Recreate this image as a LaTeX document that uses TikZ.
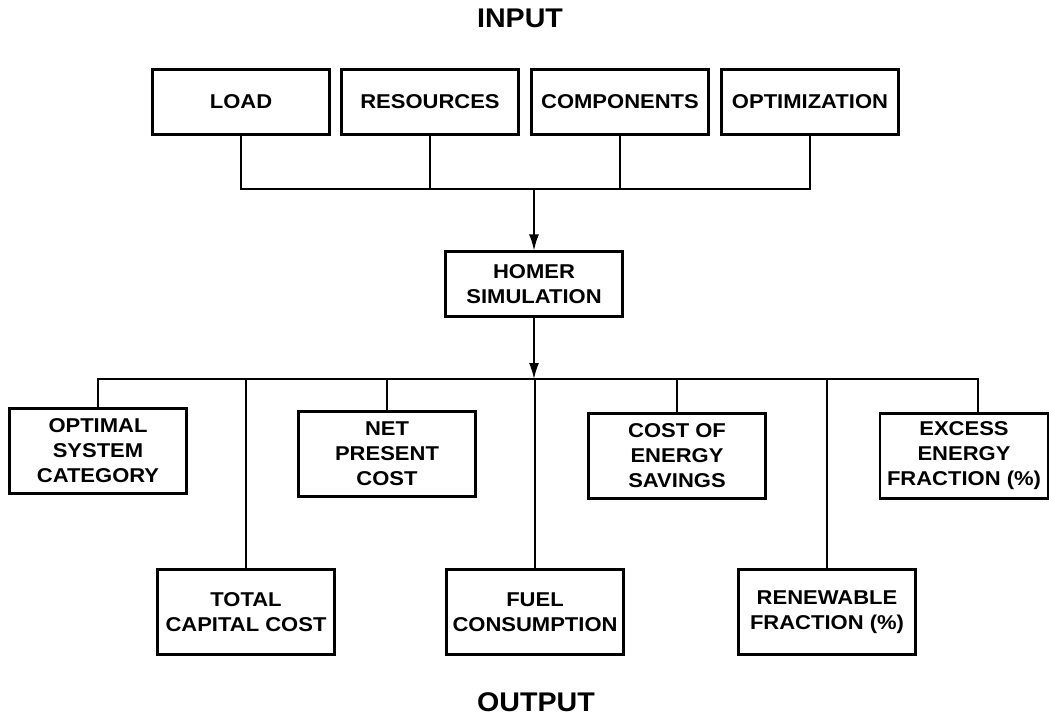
\documentclass[tikz,border=0pt]{standalone}
\usepackage{fontspec}
\setmainfont{Liberation Sans}
\newfontfamily\boxfont{Liberation Sans}[FakeStretch=1.1]
\newfontfamily\titlefont{Liberation Sans}[FakeStretch=1.06]
\usetikzlibrary{arrows.meta}

\begin{document}
\begin{tikzpicture}[x=1pt,y=-1pt,
    inbox/.style={draw,line width=2.2pt,minimum width=177pt,minimum height=65pt,
        inner sep=0pt,align=center,font=\boxfont\bfseries\fontsize{20}{25}\selectfont},
    outbox/.style={inbox,minimum height=85pt},
    title/.style={font=\titlefont\bfseries\fontsize{27}{30}\selectfont},
    link/.style={line width=1.6pt},
    arrow/.style={link,-{Latex[length=16pt,width=10pt]}}]
        \useasboundingbox (0,0) rectangle (1050,717);

        % Titles
        \node[title] (input) at (520,18) {INPUT};
        \node[title] (output) at (536,702) {OUTPUT};

        % Input boxes
        \node[inbox] (load) at (241,102) {LOAD};
        \node[inbox] (resources) at (430,102) {RESOURCES};
        \node[inbox] (components) at (620,102) {COMPONENTS};
        \node[inbox] (optimization) at (810,102) {OPTIMIZATION};

        % Simulation
        \coordinate (inbus) at (534,189);
        \node[inbox] (homer) at (534,284) {HOMER\\SIMULATION};
        \coordinate (outbus) at (534,379);

        % Output boxes
        \node[outbox] (optimal) at (98,451) {OPTIMAL\\SYSTEM\\CATEGORY};
        \node[outbox] (netcost) at (387,454) {NET\\PRESENT\\COST};
        \node[outbox] (savings) at (677,456) {COST OF\\ENERGY\\SAVINGS};
        \node[outbox,minimum width=168pt] (excess) at (964,456) {EXCESS\\ENERGY\\FRACTION (\%)};
        \node[outbox] (capital) at (246,612) {TOTAL\\CAPITAL COST};
        \node[outbox] (fuel) at (535,612) {FUEL\\CONSUMPTION};
        \node[outbox] (renewable) at (827,612) {RENEWABLE\\FRACTION (\%)};

        % Connectors
        \foreach \n in {load,resources,components,optimization}
            \draw[link] (\n) |- (inbus);
        \draw[arrow] (inbus) -- (homer);
        \draw[arrow] (homer) -- (outbus);
        \foreach \n in {optimal,capital,netcost,fuel,savings,renewable}
            \draw[link] (outbus) -| (\n);
        \draw[link] (outbus) -| ([xshift=14pt]excess.north);
    \end{tikzpicture}
\end{document}
